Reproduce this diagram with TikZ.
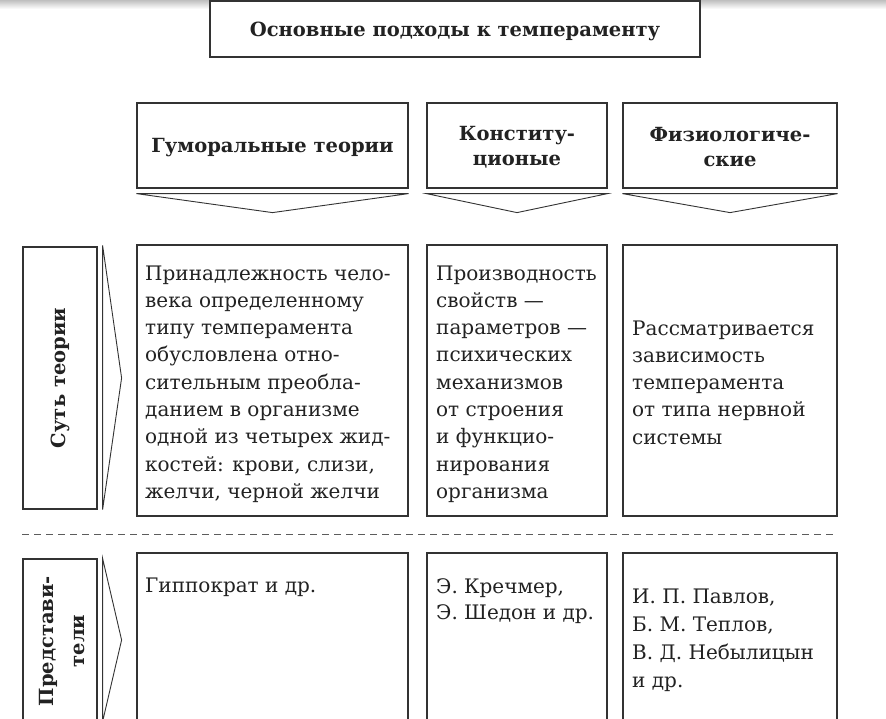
\documentclass[tikz,border=0pt]{standalone}
\usepackage{fontspec}
\setmainfont{DejaVu Serif}
\usetikzlibrary{calc}
\definecolor{ln}{HTML}{333333}
\definecolor{tx}{HTML}{222222}
\tikzset{
  box/.style={draw=ln, line width=1.2pt, inner sep=0pt, fill=white},
  chev/.style={draw=ln, line width=0.9pt, line join=miter},
  body/.style={anchor=base west, inner sep=0pt, align=left, text=tx, font=\fontsize{20}{27.3}\selectfont},
  body2/.style={anchor=base west, inner sep=0pt, align=left, text=tx, font=\fontsize{20}{26}\selectfont},
  head/.style={align=center, inner sep=0pt, text=tx, font=\bfseries\fontsize{19.5}{25}\selectfont},
  side/.style={align=center, inner sep=0pt, text=tx, rotate=90, font=\bfseries\fontsize{19.5}{31}\selectfont},
}
\begin{document}
\begin{tikzpicture}[x=1pt, y=-1pt]
\useasboundingbox (0,0) rectangle (886,718);
\clip (0,0) rectangle (886,718);
\fill[white] (0,0) rectangle (886,718);
\shade[top color=black!25, bottom color=white] (0,0) rectangle (886,9);

% title
\node[box, minimum width=490pt, minimum height=56pt] (title) at (455,29) {};
\node[head] (titletext) at (455,31) {Основные подходы к темпераменту};

% header boxes
\node[box, minimum width=271pt, minimum height=85pt] (h1) at (272.5,145.5) {};
\node[box, minimum width=180pt, minimum height=85pt] (h2) at (517,145.5) {};
\node[box, minimum width=214pt, minimum height=85pt] (h3) at (730,145.5) {};
\node[head] (h1t) at ($(h1.center)+(0,2)$) {Гуморальные теории};
\node[head] (h2t) at ($(h2.center)+(0,2)$) {Конститу-\\ционые};
\node[head] (h3t) at ($(h3.center)+(0,2)$) {Физиологиче-\\ские};

% header chevrons
\foreach \h in {h1,h2,h3}{
  \draw[chev] ($(\h.south west)+(0,5)$) -- ($(\h.south)+(0,24)$) -- ($(\h.south east)+(0,5)$) -- cycle;
}

% row 1
\node[box, minimum width=74pt, minimum height=262pt] (l1) at (60,378) {};
\node[side] (l1t) at (l1.center) {Суть теории};
\draw[chev] ($(l1.north east)+(5,-1)$) -- ($(l1.east)+(24,0)$) -- ($(l1.south east)+(5,0)$) -- cycle;

\node[box, minimum width=271pt, minimum height=271pt] (c1) at (272.5,380.5) {};
\node[box, minimum width=180pt, minimum height=271pt] (c2) at (517,380.5) {};
\node[box, minimum width=214pt, minimum height=271pt] (c3) at (730,380.5) {};

\node[body] (c1t) at (145,498.4) {Принадлежность чело-\\века определенному\\типу темперамента\\обусловлена отно-\\сительным преобла-\\данием в организме\\одной из четырех жид-\\костей: крови, слизи,\\желчи, черной желчи};
\node[body] (c2t) at (436,498.4) {Производность\\свойств —\\параметров —\\психических\\механизмов\\от строения\\и функцио-\\нирования\\организма};
\node[body] (c3t) at (632,444.2) {Рассматривается\\зависимость\\темперамента\\от типа нервной\\системы};

% dashed separator
\coordinate (dl) at (22,534);
\coordinate (dr) at (836,534);
\draw[ln!80, line width=1pt, dash pattern=on 7pt off 5pt] (dl) -- (dr);

% row 2
\node[box, minimum width=74pt, minimum height=162pt] (l2) at (60,640) {};
\node[side] (l2t) at ($(l2.center)+(2,1)$) {Представи-\\тели};
\draw[chev] ($(l2.north east)+(5,0)$) -- ($(l2.east)+(24,0)$) -- ($(l2.south east)+(5,0)$) -- cycle;

\node[box, minimum width=271pt, minimum height=190pt] (d1) at (272.5,648) {};
\node[box, minimum width=180pt, minimum height=190pt] (d2) at (517,648) {};
\node[box, minimum width=214pt, minimum height=190pt] (d3) at (730,648) {};

\node[body2] (d1t) at (145,592) {Гиппократ и др.};
\node[body2] (d2t) at (436,619) {Э. Кречмер,\\Э. Шедон и др.};
\node[body2, font=\fontsize{20}{27.7}\selectfont] (d3t) at (632,687) {И. П. Павлов,\\Б. М. Теплов,\\В. Д. Небылицын\\и др.};
\end{tikzpicture}
\end{document}
